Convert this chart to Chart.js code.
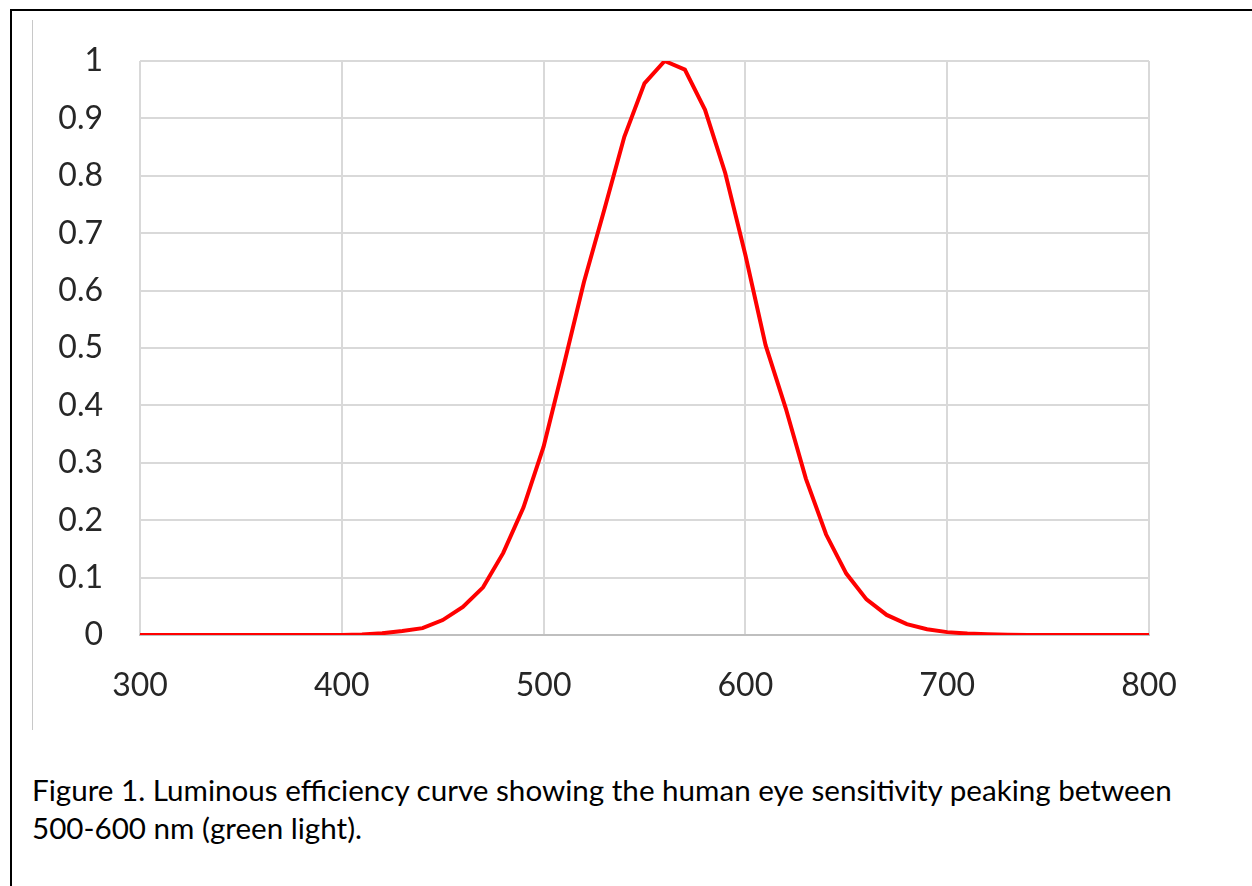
<!DOCTYPE html>
<html>
<head>
<meta charset="utf-8">
<script src="https://cdn.jsdelivr.net/npm/chart.js@4/dist/chart.umd.min.js"></script>
<style>
  html, body { margin: 0; padding: 0; background: #fff; }
  #page { position: relative; width: 1252px; height: 886px; overflow: hidden; background: #fff; }
  #frame { position: absolute; left: 10px; top: 9px; width: 1300px; height: 900px;
           border-left: 2px solid #000; border-top: 2px solid #000; }
  #vline { position: absolute; left: 32px; top: 20px; width: 1px; height: 710px; background: #c8c8c8; }
  #wrap { position: absolute; left: 0; top: 0; width: 1252px; height: 740px; }
  #caption { position: absolute; left: 32px; top: 771px; font-family: Lato, "Open Sans", sans-serif;
             font-size: 29.6px; line-height: 38px; color: #000; white-space: nowrap; }
</style>
</head>
<body>
<div id="page">
  <div id="frame"></div>
  <div id="vline"></div>
  <div id="wrap"><canvas id="c"></canvas></div>
  <div id="caption">Figure 1. Luminous efficiency curve showing the human eye sensitivity peaking between<br>500-600 nm (green light).</div>
</div>
<script>
const wavelengths = [300,310,320,330,340,350,360,370,380,390,400,410,420,430,440,450,460,470,480,490,
                     500,510,520,530,540,550,560,570,580,590,600,610,620,630,640,650,660,670,680,690,
                     700,710,720,730,740,750,760,770,780,790,800];
const efficiency  = [0,0,0,0,0,0,0,0,0,0,0,0.001,0.003,0.007,0.012,0.026,0.049,0.083,0.143,0.222,
                     0.328,0.47,0.615,0.74,0.868,0.961,1.0,0.985,0.915,0.805,0.662,0.505,0.395,0.272,0.175,0.107,0.062,0.035,0.019,0.01,
                     0.005,0.0025,0.0012,0.0005,0,0,0,0,0,0,0];
const xTickLabels = ["300","400","500","600","700","800"];
const yTickLabels = ["0","0.1","0.2","0.3","0.4","0.5","0.6","0.7","0.8","0.9","1"];

const points = wavelengths.map((w, i) => ({ x: w, y: efficiency[i] }));

Chart.defaults.font.family = "Lato, 'Open Sans', sans-serif";
Chart.defaults.color = "#262626";

new Chart(document.getElementById('c'), {
  type: 'line',
  data: {
    datasets: [{
      data: points,
      borderColor: '#ff0000',
      borderWidth: 4,
      pointRadius: 0,
      tension: 0,
      fill: false
    }]
  },
  options: {
    responsive: true,
    maintainAspectRatio: false,
    animation: false,
    layout: { padding: { left: 0, right: 103, top: 61, bottom: 0 } },
    plugins: { legend: { display: false }, tooltip: { enabled: false } },
    scales: {
      x: {
        type: 'linear', min: 300, max: 800,
        ticks: { stepSize: 100, padding: 31, font: { size: 32 },
                 callback: (v) => { const i = xTickLabels.indexOf(String(v)); return i >= 0 ? xTickLabels[i] : ''; } },
        grid: { color: '#d9d9d9', lineWidth: 2, drawTicks: false },
        border: { display: true, color: '#bfbfbf', width: 2 },
        afterFit: (s) => { s.height = 105; }
      },
      y: {
        min: 0, max: 1,
        ticks: { stepSize: 0.1, padding: 37, font: { size: 32 },
                 callback: (v) => yTickLabels[Math.round(v * 10)] },
        grid: { color: '#d9d9d9', lineWidth: 2, drawTicks: false },
        border: { display: false },
        afterFit: (s) => { s.width = 140; }
      }
    }
  }
});
</script>
</body>
</html>
